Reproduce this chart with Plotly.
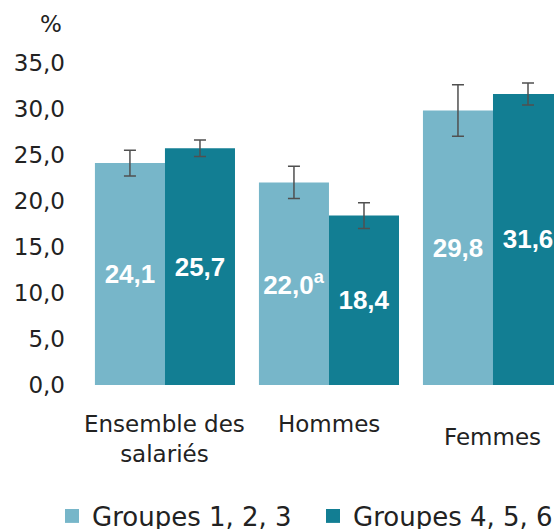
import plotly.graph_objects as go

categories = ["Ensemble des<br>salariés", "Hommes", "Femmes"]
cat_keys = ["Ensemble", "Hommes", "Femmes"]
series_names = ["Groupes 1, 2, 3", "Groupes 4, 5, 6"]
values_g123 = [24.1, 22.0, 29.8]
values_g456 = [25.7, 18.4, 31.6]
labels_g123 = ["24,1", "22,0<sup>a</sup>", "29,8"]
labels_g456 = ["25,7", "18,4", "31,6"]
err_g123 = [1.4, 1.75, 2.8]
err_g456 = [0.9, 1.4, 1.2]
tick_vals = [0, 5, 10, 15, 20, 25, 30, 35]
tick_text = ["0,0", "5,0", "10,0", "15,0", "20,0", "25,0", "30,0", "35,0"]

LIGHT = "#77b6c9"
DARK = "#127e93"
ERR = "#505050"
AXFONT = "DejaVu Sans"
TXT = "#222222"

fig = go.Figure()
series = [
    (series_names[0], values_g123, labels_g123, err_g123, LIGHT, "legend"),
    (series_names[1], values_g456, labels_g456, err_g456, DARK, "legend2"),
]
for name, vals, labs, errs, col, leg in series:
    fig.add_trace(go.Bar(
        x=cat_keys, y=vals, name=name, marker=dict(color=col, line=dict(width=0)),
        text=labs, textposition="inside", insidetextanchor="middle", textangle=0,
        textfont=dict(family="Liberation Sans", size=26, color="white", weight="bold"),
        error_y=dict(type="data", array=errs, visible=True, color=ERR, thickness=1.5, width=6),
        showlegend=False, hoverinfo="skip",
    ))
    fig.add_trace(go.Scatter(
        x=[None], y=[None], mode="markers", name=name, legend=leg,
        marker=dict(symbol="square", size=14, color=col), showlegend=True,
    ))

for key, lab in zip(cat_keys, categories):
    fig.add_annotation(
        x=key, y=0, xref="x", yref="y", text=lab, showarrow=False,
        yanchor="top", xanchor="center", align="center",
        yshift=-24 if key != "Femmes" else -37,
        font=dict(family=AXFONT, size=23, color=TXT),
    )

fig.add_annotation(
    x=(64 - 80) / 474, y=1 + (40 - 24) / 345, xref="paper", yref="paper",
    text="%", showarrow=False, xanchor="right", yanchor="middle",
    font=dict(family=AXFONT, size=23, color=TXT),
)

legend_common = dict(orientation="h", xref="container", yref="container",
                     y=1 - 516 / 529, xanchor="left", yanchor="middle",
                     font=dict(family=AXFONT, size=26, color=TXT),
                     itemclick=False, itemdoubleclick=False,
                     bgcolor="rgba(0,0,0,0)")

fig.update_layout(
    width=554, height=529,
    margin=dict(l=80, r=0, t=40, b=144, pad=0),
    paper_bgcolor="white", plot_bgcolor="white",
    barmode="group", bargap=0.146, bargroupgap=0,
    xaxis=dict(type="category", range=[-0.518, 2.372], showticklabels=False,
               showgrid=False, zeroline=False, showline=False, ticks=""),
    yaxis=dict(range=[0, 37.46], tickvals=tick_vals, ticktext=tick_text,
               showgrid=False, zeroline=False, showline=False, ticks="",
               ticklabelstandoff=14,
               tickfont=dict(family=AXFONT, size=23, color=TXT)),
    legend=dict(x=52 / 554, **legend_common),
    legend2=dict(x=313 / 554, **legend_common),
    showlegend=True,
)

fig.write_html(
    "out.html",
    config={"displayModeBar": False},
    post_script="document.body.style.margin='0';document.body.style.overflow='hidden';",
)
